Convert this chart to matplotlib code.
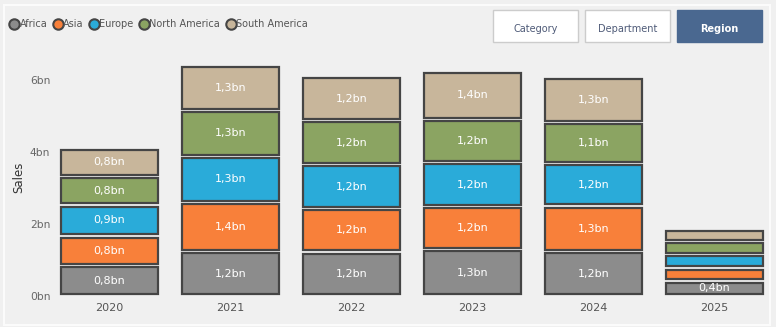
import matplotlib.pyplot as plt
from matplotlib.patches import Rectangle
from matplotlib.lines import Line2D
import numpy as np

years = ["2020", "2021", "2022", "2023", "2024", "2025"]
regions = ["Africa", "Asia", "Europe", "North America", "South America"]
# sales in bn, stacked bottom to top
africa = [0.84, 1.24, 1.22, 1.30, 1.24, 0.42]
asia = [0.83, 1.36, 1.21, 1.18, 1.26, 0.36]
europe = [0.86, 1.28, 1.22, 1.22, 1.18, 0.37]
north_america = [0.80, 1.28, 1.22, 1.20, 1.13, 0.37]
south_america = [0.76, 1.26, 1.22, 1.35, 1.26, 0.33]
yticks = [0, 2, 4, 6]
buttons = ["Category", "Department", "Region"]

colors = ["#8c8c8c", "#f8803a", "#2aabd9", "#8ba462", "#c8b69b"]
EDGE = "#454545"
BG = "#f0f0f0"
GAP = 0.09
LABEL_MIN = 0.4

fig = plt.figure(figsize=(7.76, 3.27), dpi=100, facecolor=BG)
W, H = 776, 327

# panel border
fig.patches.append(Rectangle((4 / W, 2 / H), 766 / W, 320 / H, transform=fig.transFigure,
                             facecolor="none", edgecolor="#fbfbfb", lw=1.5))

ax = fig.add_axes([58.7 / W, 1 - 296 / H, 710.3 / W, (296 - 58.4) / H])
ax.set_facecolor(BG)

x = np.arange(len(years))
series = [africa, asia, europe, north_america, south_america]
bottom = np.zeros(len(years))
for vals, col in zip(series, colors):
    vals = np.array(vals)
    ax.bar(x, vals - GAP, bottom=bottom + GAP / 2, width=0.8, color=col,
           edgecolor=EDGE, linewidth=1.6)
    for xi, b, v in zip(x, bottom, vals):
        if v >= LABEL_MIN:
            ax.text(xi, b + v / 2, f"{v:.1f}".replace(".", ",") + "bn", ha="center",
                    va="center", color="white", fontsize=8)
    bottom = bottom + vals

ax.set_xlim(-0.42, 5.45)
ax.set_ylim(0, 6.6)
ax.set_xticks(x)
ax.set_xticklabels(years, fontsize=8, color="#555555")
ax.set_yticks(yticks)
ax.set_yticklabels([f"{t}bn" for t in yticks], fontsize=7.7, color="#666666")
ax.tick_params(length=0)
ax.tick_params(axis="y", pad=6)
ax.tick_params(axis="x", pad=5)
for s in ax.spines.values():
    s.set_visible(False)
ax.set_ylabel("Sales", fontsize=8.5, color="#333333", labelpad=3)

handles = [Line2D([], [], marker="o", ls="none", markersize=7.5, markerfacecolor=c,
                  markeredgecolor=EDGE, markeredgewidth=1.5) for c in colors]
fig.legend(handles, regions, loc="center left", bbox_to_anchor=(10 / W, 1 - 24 / H),
           ncol=5, frameon=False, fontsize=7, handlelength=0.9, handletextpad=0.1,
           columnspacing=0.62, borderpad=0, borderaxespad=0, labelcolor="#555555")

# slicer buttons
btn_x = [493, 585, 677]
for name, bx in zip(buttons, btn_x):
    active = name == "Region"
    fig.patches.append(Rectangle((bx / W, 1 - 42 / H), 85 / W, 32 / H, transform=fig.transFigure,
                                 facecolor="#4a6890" if active else "white",
                                 edgecolor="#4a6890" if active else "#cccccc", lw=1))
    fig.text((bx + 42.5) / W, 1 - 29.5 / H, name, ha="center", va="center", fontsize=7,
             color="white" if active else "#4f5b78", fontweight="bold" if active else "normal")

fig.savefig("out.png", dpi=100, facecolor=BG)
